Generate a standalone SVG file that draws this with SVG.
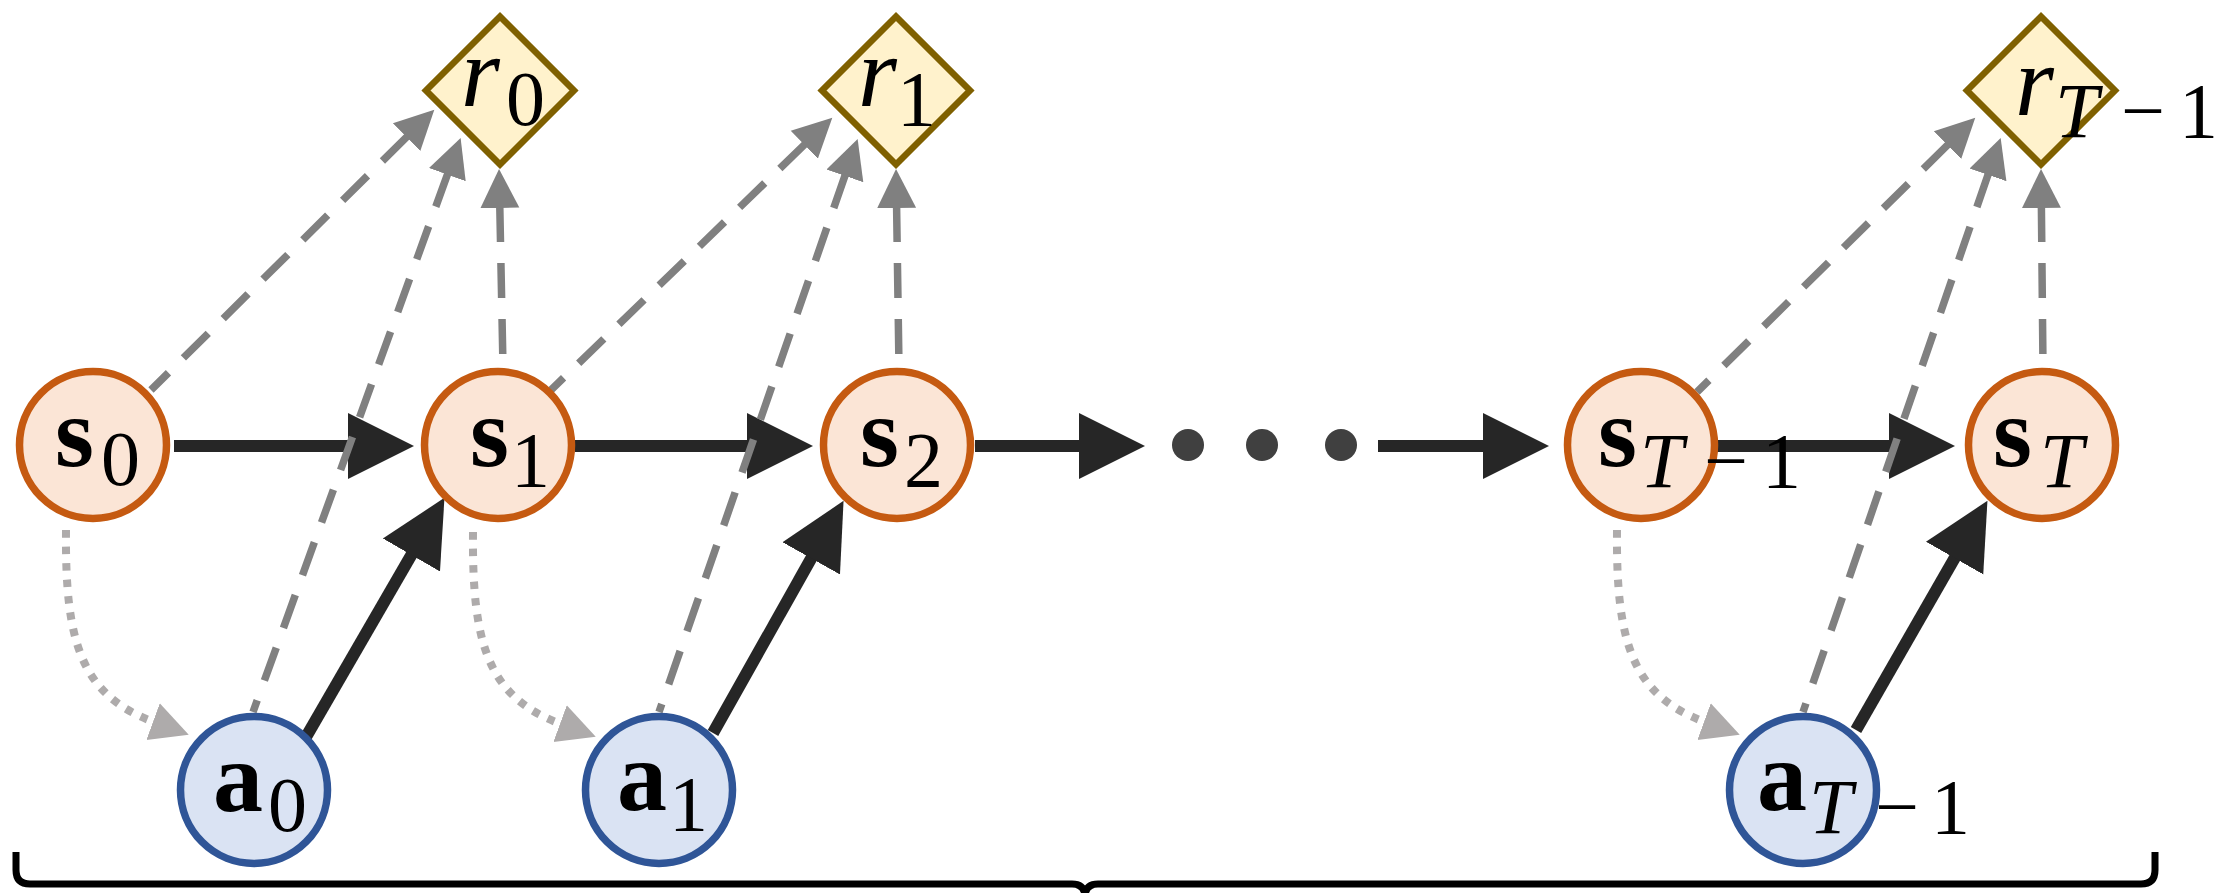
<svg xmlns="http://www.w3.org/2000/svg" width="2234" height="893" viewBox="0 0 2234 893">
<style>
.st{fill:#FBE5D6;stroke:#C55A11;stroke-width:7.5}
.ac{fill:#DAE3F3;stroke:#2F5597;stroke-width:7.5}
.rw{fill:#FFF2CC;stroke:#7F6000;stroke-width:6.5;stroke-linejoin:miter}
.blk{fill:none;stroke:#262626;stroke-width:12;marker-end:url(#mb)}
.dsh{fill:none;stroke:#808080;stroke-width:7.5;stroke-dasharray:35 21;marker-start:url(#mg)}
.dot{fill:none;stroke:#AEABAB;stroke-width:8;stroke-dasharray:7.5 9;marker-end:url(#md)}
.b{font-weight:bold}
.i{font-style:italic}
.sub{font-size:78px}
</style>
<defs>
<marker id="mb" markerUnits="userSpaceOnUse" viewBox="0 -34 68 68" markerWidth="68" markerHeight="68" refX="1" refY="0" orient="auto"><path d="M0,-33 L66,0 L0,33 z" fill="#262626"/></marker>
<marker id="mg" markerUnits="userSpaceOnUse" viewBox="0 -21 42 42" markerWidth="42" markerHeight="42" refX="1" refY="0" orient="auto-start-reverse"><path d="M0,-19.5 L39,0 L0,19.5 z" fill="#808080"/></marker>
<marker id="md" markerUnits="userSpaceOnUse" viewBox="0 -21 42 42" markerWidth="42" markerHeight="42" refX="1" refY="0" orient="auto"><path d="M0,-19.5 L38,0 L0,19.5 z" fill="#AEABAB"/></marker>
</defs>
<g id="connectors">
<path class="blk" d="M174,446 H349"/>
<path class="blk" d="M575,446 H748"/>
<path class="blk" d="M975,446 H1080"/>
<path class="blk" d="M1378,446 H1484"/>
<path class="blk" d="M1716,446 H1890"/>
<path class="blk" d="M306,737 L411.9,554.1"/>
<path class="blk" d="M713,733 L811.7,557.5"/>
<path class="blk" d="M1856,730 L1955.1,557.2"/>
<path class="dot" d="M66,530 C65,640 80,695 154,722"/>
<path class="dot" d="M473,532 C472,642 487,697 561,724"/>
<path class="dot" d="M1617,530 C1616,640 1631,695 1705,722"/>
<path class="dsh" d="M407.3,136.4 L151,390"/>
<path class="dsh" d="M447.7,173.7 L253,712"/>
<path class="dsh" d="M499.8,207 L503,367"/>
<path class="dsh" d="M805,144.1 L551,390"/>
<path class="dsh" d="M845.2,174.9 L659,712"/>
<path class="dsh" d="M896.6,207 L899,367"/>
<path class="dsh" d="M1948.2,144.4 L1697,392"/>
<path class="dsh" d="M1988.3,173.9 L1803,712"/>
<path class="dsh" d="M2041.4,207 L2043,367"/>
</g>
<g id="dots" fill="#404040">
<circle cx="1188" cy="445" r="16"/>
<circle cx="1262" cy="445" r="16"/>
<circle cx="1341" cy="445" r="16"/>
</g>
<g font-family="'Liberation Serif', 'Times New Roman', serif" font-size="100" fill="#000">
<g id="s0"><circle class="st" cx="93" cy="445" r="73.5"/><text><tspan class="b" x="55" y="466">s</tspan><tspan class="sub" x="101" y="485">0</tspan></text></g>
<g id="s1"><circle class="st" cx="498" cy="445" r="73.5"/><text><tspan class="b" x="470" y="466">s</tspan><tspan class="sub" x="511" y="486">1</tspan></text></g>
<g id="s2"><circle class="st" cx="897" cy="445" r="73.5"/><text><tspan class="b" x="860" y="466">s</tspan><tspan class="sub" x="904" y="486">2</tspan></text></g>
<g id="sTm1"><circle class="st" cx="1641" cy="445" r="73.5"/><text><tspan class="b" x="1598" y="466">s</tspan><tspan class="sub i" x="1640" y="487">T</tspan><tspan class="sub" x="1704" y="487">−</tspan><tspan class="sub" x="1762" y="487">1</tspan></text></g>
<g id="sT"><circle class="st" cx="2042" cy="445" r="73.5"/><text><tspan class="b" x="1993" y="466">s</tspan><tspan class="sub i" x="2040" y="487">T</tspan></text></g>
<g id="a0"><circle class="ac" cx="254" cy="790" r="73.5"/><text><tspan class="b" x="213" y="811">a</tspan><tspan class="sub" x="268" y="831">0</tspan></text></g>
<g id="a1"><circle class="ac" cx="659" cy="790" r="73.5"/><text><tspan class="b" x="617" y="810">a</tspan><tspan class="sub" x="669" y="830">1</tspan></text></g>
<g id="aTm1"><circle class="ac" cx="1803" cy="790" r="73.5"/><text><tspan class="b" x="1757" y="810">a</tspan><tspan class="sub i" x="1809" y="833">T</tspan><tspan class="sub" x="1875" y="833">−</tspan><tspan class="sub" x="1931" y="833">1</tspan></text></g>
<g id="r0"><polygon class="rw" points="500,16.5 574,90.5 500,164.5 426,90.5"/><text><tspan class="i" x="461" y="106">r</tspan><tspan class="sub" x="506" y="125">0</tspan></text></g>
<g id="r1"><polygon class="rw" points="896,16.5 970,90.5 896,164.5 822,90.5"/><text><tspan class="i" x="858" y="106">r</tspan><tspan class="sub" x="897" y="125">1</tspan></text></g>
<g id="rTm1"><polygon class="rw" points="2041,16.5 2115,90.5 2041,164.5 1967,90.5"/><text><tspan class="i" x="2015" y="115">r</tspan><tspan class="sub i" x="2055" y="137">T</tspan><tspan class="sub" x="2121" y="137">−</tspan><tspan class="sub" x="2179" y="137">1</tspan></text></g>
</g>
<g id="brace"><path d="M16,852 V870 Q16,884 30,884 H1072 Q1085,884 1085,897 Q1085,884 1098,884 H2141 Q2155,884 2155,870 V852" fill="none" stroke="#000" stroke-width="7"/></g>
</svg>
